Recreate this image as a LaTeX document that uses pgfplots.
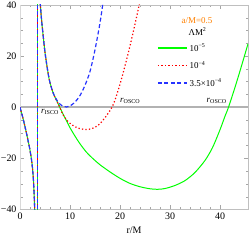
\documentclass[border=0pt]{standalone}
\usepackage{fontspec}
\setmainfont{Liberation Serif}
\usepackage{pgfplots}
\pgfplotsset{compat=1.18}
\definecolor{mgreen}{rgb}{0,1,0}
\definecolor{mred}{rgb}{1,0,0}
\definecolor{mblue}{rgb}{0.15,0.2,1}
\definecolor{morange}{rgb}{1,0.5,0}
\pgfplotsset{
  gstyle/.style={draw=mgreen, line width=1pt},
  rstyle/.style={draw=mred, line width=1.2pt, dash pattern=on 1.3pt off 2.2pt},
  bstyle/.style={draw=mblue, line width=1.2pt, dash pattern=on 4pt off 2.5pt},
}
\begin{document}
\begin{tikzpicture}
\begin{axis}[
  name=ax,
  scale only axis, width=228bp, height=204.5bp,
  xmin=0, xmax=45.6, ymin=-40, ymax=40,
  xtick={0,10,20,30,40}, minor x tick num=4,
  ytick={-40,-20,0,20,40}, yticklabels={−40,−20,0,20,40}, minor y tick num=3,
  tick align=inside,
  major tick length=4bp, minor tick length=2.5bp,
  every tick/.style={gray!70, line width=0.4pt},
  axis line style={gray!50, line width=0.5pt},
  tick label style={font=\fontsize{10}{12}\selectfont, black},
  /pgf/number format/assume math mode=true,
  xlabel={r/M}, xlabel style={font=\fontsize{10}{12}\selectfont},
  legend cell align=left,
  legend style={at={(axis cs:27.4,25.7)}, anchor=north west, draw=none, fill=none,
    font=\fontsize{9}{10}\selectfont, inner sep=0pt, row sep=4.3bp},
  legend image code/.code={\draw[#1, line width=1.4pt] (0bp,0.5bp) -- (29bp,0.5bp);},
]
% axes lines
\addplot[gray!60, line width=1.6pt, forget plot] coordinates {(0,0) (45.6,0)};
\addplot[gray!30, line width=1.5pt, forget plot] coordinates {(0,-40) (0,40)};

% ---- green, Lambda M^2 = 1e-5
\addplot[gstyle, smooth, forget plot] coordinates {
(0,0) (0.5,-3.6) (1,-7.6) (1.5,-12) (2,-16.8) (2.3,-20.5) (2.5,-23.8) (2.7,-29) (2.85,-35) (2.95,-40.5) (3.05,-47)};
\addplot[gstyle, forget plot] coordinates {(3.53,-45) (3.53,45)};
\addplot[gstyle, smooth] coordinates {
(3.95,43.5) (4.07,40) (4.3,34.5) (4.6,28.5) (5.0,21.5) (5.4,16) (5.8,11.3) (6.2,8.2) (6.6,5.8) (7.0,3.9) (7.4,2.3) (7.8,0.7) (8.0,-0.2)
(8.67,-2.9) (9.3,-5.3) (10,-8.0) (11,-11.3) (12,-14.3) (13.3,-17.6) (14.7,-20.3) (16,-22.5) (18,-25.3) (20,-27.8) (22,-29.8) (24,-31.1)
(26,-31.9) (27.5,-32.1) (29,-31.8) (31,-30.6) (33,-28.7) (35,-25.5) (37,-20.8) (38.5,-15.8) (40,-8.8) (41,-3.5) (41.7,0) (43,7.8) (44,14.2) (45,20.8) (45.6,24.8)};
\addlegendentry{10\textsuperscript{−5}}

% ---- red, Lambda M^2 = 1e-4
\addplot[rstyle, smooth, forget plot] coordinates {
(0,0) (0.5,-3.6) (1,-7.6) (1.5,-12) (2,-16.8) (2.3,-20.5) (2.5,-23.8) (2.7,-29) (2.85,-35) (2.95,-40.5) (3.05,-47)};
\addplot[rstyle, forget plot] coordinates {(3.53,-45) (3.53,45)};
\addplot[rstyle, smooth] coordinates {
(3.95,43.5) (4.07,40) (4.3,34.5) (4.6,28.5) (5.0,21.5) (5.4,16) (5.8,11.3) (6.2,8.2) (6.6,5.8) (7.0,3.9) (7.4,2.3) (7.8,0.6) (8.2,-1.2)
(8.67,-3.1) (9.3,-4.9) (10,-6.3) (11,-7.6) (12,-8.4) (13.3,-8.7) (14.3,-8.4) (15.2,-7.6) (16,-6.4) (17,-4.1) (18,-1.3) (18.4,0) (19,2.8)
(20,9.0) (21,16.2) (22,24) (23,32.5) (24,41.5)};
\addlegendentry{10\textsuperscript{−4}}

% ---- blue, Lambda M^2 = 3.5e-4
\addplot[bstyle, smooth, forget plot] coordinates {
(0,0) (0.5,-3.6) (1,-7.6) (1.5,-12) (2,-16.8) (2.3,-20.5) (2.5,-23.8) (2.7,-29) (2.85,-35) (2.95,-40.5) (3.05,-47)};
\addplot[bstyle, forget plot] coordinates {(3.53,-45) (3.53,45)};
\addplot[bstyle, smooth] coordinates {
(3.95,43.5) (4.07,40) (4.3,34.5) (4.6,28.5) (5.0,21.5) (5.4,16) (5.8,11.3) (6.2,8.2) (6.6,5.8) (7.0,4.0) (7.5,2.4) (8.0,1.2)
(8.67,0.35) (9.3,0.1) (10,0.5) (11,2.0) (12,4.6) (13,8.6) (14,14.0) (15,22.5) (16,33) (16.6,41) (16.8,44)};
\addlegendentry{3.5×10\textsuperscript{−4}}

\node[text=morange, font=\fontsize{9}{10}\selectfont] at (axis cs:35.4,34) {a/M=0.5};
\node[font=\fontsize{9}{10}\selectfont] at (axis cs:35.5,29.5) {ΛM\textsuperscript{2}};

\node[anchor=west, font=\fontsize{9}{10}\selectfont, inner sep=0pt] at (axis cs:4.2,-1.8) {\textit{r}\textsubscript{ISCO}};
\node[anchor=west, font=\fontsize{9}{10}\selectfont, inner sep=0pt] at (axis cs:20,2.3) {\textit{r}\textsubscript{OSCO}};
\node[anchor=west, font=\fontsize{9}{10}\selectfont, inner sep=0pt] at (axis cs:37.3,2.3) {\textit{r}\textsubscript{OSCO}};
\end{axis}
\pgfresetboundingbox
\path ([shift={(-20bp,-30.5bp)}]ax.south west) rectangle ([shift={(1bp,5bp)}]ax.north east);
\end{tikzpicture}
\end{document}
